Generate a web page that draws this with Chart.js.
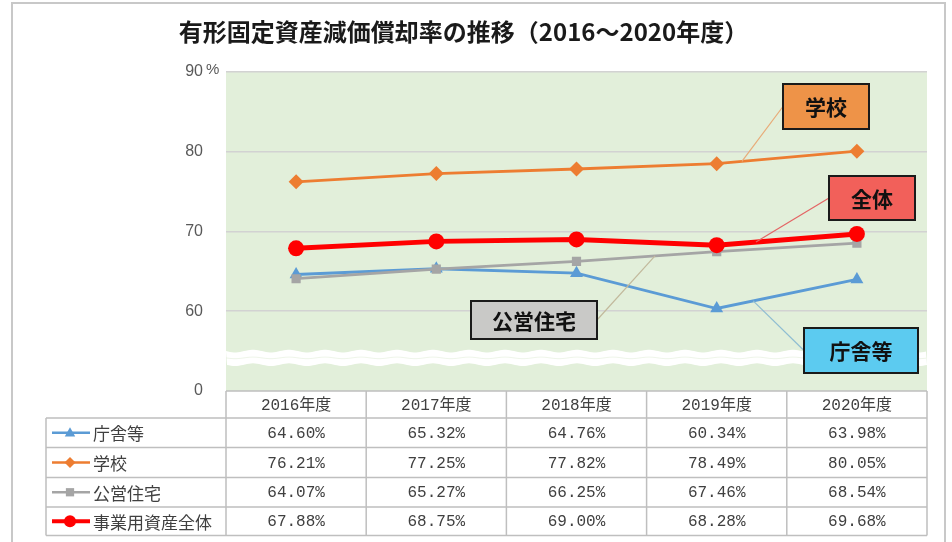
<!DOCTYPE html>
<html lang="ja">
<head>
<meta charset="utf-8">
<title>有形固定資産減価償却率の推移</title>
<script src="https://cdn.jsdelivr.net/npm/chart.js@4.4.1/dist/chart.umd.min.js"></script>
<style>
  html, body { margin: 0; padding: 0; background: #fff; }
  #contenedor { width: 952px; height: 542px; position: relative; }
</style>
</head>
<body>
<div id="contenedor"><canvas id="grafica"></canvas></div>
<script>
// Años (etiquetas del eje x y cabecera de la tabla)
const anios = ["2016年度", "2017年度", "2018年度", "2019年度", "2020年度"];

// Series (%)
const nombres = ["庁舎等", "学校", "公営住宅", "事業用資産全体"];
const chosha = [64.60, 65.32, 64.76, 60.34, 63.98];
const gakko = [76.21, 77.25, 77.82, 78.49, 80.05];
const koei = [64.07, 65.27, 66.25, 67.46, 68.54];
const zentai = [67.88, 68.75, 69.00, 68.28, 69.68];

// Eje y con corte: el valor 50 se rotula como "0"
const ejeMin = 50;
const ejeMax = 90;
const marcasY = [0, 60, 70, 80, 90];

const series = [chosha, gakko, koei, zentai];

// Estilo de cada serie
const estilos = [
    { color: "#5b9bd5", punto: "triangle", radio: 7.5, ancho: 2.8, orden: 3 },
    { color: "#ed7d31", punto: "rectRot", radio: 7.5, ancho: 2.8, orden: 2 },
    { color: "#a5a5a5", punto: "rect", radio: 6.5, ancho: 2.8, orden: 1 },
    { color: "#ff0000", punto: "circle", radio: 8, ancho: 5, orden: 0 }
];

// Rótulos con línea guía: serie, tramo (índice + fracción) y caja
const rotulos = [
    { texto: "学校", serie: 1, desde: 3, t: 0.18, caja: [783, 84, 86, 45], lado: "izq", fondo: "#ee9348", guia: "#e8ab78" },
    { texto: "全体", serie: 3, desde: 3, t: 0.28, caja: [829, 176, 86, 44], lado: "izq", fondo: "#f2605a", guia: "#e46464" },
    { texto: "公営住宅", serie: 2, desde: 2, t: 0.56, caja: [471, 301, 126, 38], lado: "der", fondo: "#c9c9c7", guia: "#c2b99c" },
    { texto: "庁舎等", serie: 0, desde: 3, t: 0.26, caja: [804, 328, 114, 45], lado: "izq", fondo: "#5ccbf0", guia: "#8fbdd2" }
];

// Dibuja un marcador sencillo
function dibujaPunto(ctx, estilo, x, y, r) {
    ctx.fillStyle = estilo.color;
    ctx.beginPath();
    if (estilo.punto === "circle") {
        ctx.arc(x, y, r, 0, Math.PI * 2);
    } else if (estilo.punto === "triangle") {
        ctx.moveTo(x, y - r);
        ctx.lineTo(x + r * 0.95, y + r * 0.7);
        ctx.lineTo(x - r * 0.95, y + r * 0.7);
        ctx.closePath();
    } else if (estilo.punto === "rectRot") {
        ctx.moveTo(x, y - r);
        ctx.lineTo(x + r, y);
        ctx.lineTo(x, y + r);
        ctx.lineTo(x - r, y);
        ctx.closePath();
    } else {
        ctx.rect(x - r * 0.75, y - r * 0.75, r * 1.5, r * 1.5);
    }
    ctx.fill();
}

// Plugin: fondo, marco, corte del eje, tabla de datos y rótulos
const pluginExtras = {
    id: "extras",
    beforeDraw(chart) {
        const { ctx, chartArea: a, width, height } = chart;
        ctx.save();
        ctx.fillStyle = "#ffffff";
        ctx.fillRect(0, 0, width, height);
        // marco exterior
        ctx.strokeStyle = "#c8c8c8";
        ctx.lineWidth = 2;
        ctx.beginPath();
        ctx.moveTo(12, height + 2);
        ctx.lineTo(12, 3);
        ctx.lineTo(945, 3);
        ctx.lineTo(945, height + 2);
        ctx.stroke();
        // área de trazado
        ctx.fillStyle = "#e2efda";
        ctx.fillRect(a.left, a.top, a.right - a.left, a.bottom - a.top);
        ctx.restore();
    },
    beforeDatasetsDraw(chart) {
        // banda blanca ondulada del corte
        const { ctx, chartArea: a } = chart;
        const y = chart.scales.y;
        const y1 = y.getPixelForValue(55);
        const y2 = y.getPixelForValue(53.3);
        ctx.save();
        ctx.fillStyle = "#ffffff";
        ctx.beginPath();
        for (let x = a.left; x <= a.right; x += 2) {
            const yy = y1 + 1.3 * Math.sin((x - a.left) / 36 * Math.PI * 2);
            if (x === a.left) ctx.moveTo(x, yy); else ctx.lineTo(x, yy);
        }
        for (let x = a.right; x >= a.left; x -= 2) {
            ctx.lineTo(x, y2 + 1.3 * Math.sin((x - a.left) / 36 * Math.PI * 2));
        }
        ctx.closePath();
        ctx.fill();
        ctx.strokeStyle = "rgba(226, 239, 218, 0.6)";
        ctx.lineWidth = 1;
        ctx.beginPath();
        for (let x = a.left; x <= a.right; x += 2) {
            const yy = (y1 + y2) / 2 + 0.8 * Math.sin((x - a.left) / 36 * Math.PI * 2);
            if (x === a.left) ctx.moveTo(x, yy); else ctx.lineTo(x, yy);
        }
        ctx.stroke();
        ctx.restore();
    },
    afterDraw(chart) {
        const { ctx, chartArea: a } = chart;
        const xs = chart.scales.x;
        const ys = chart.scales.y;
        ctx.save();

        // "%" junto al 90
        ctx.fillStyle = "#595959";
        ctx.font = "15px 'Liberation Sans', sans-serif";
        ctx.textAlign = "left";
        ctx.textBaseline = "middle";
        ctx.fillText("%", 206, ys.getPixelForValue(ejeMax) - 2);

        // tabla de datos
        const paso = xs.getPixelForValue(1) - xs.getPixelForValue(0);
        const filas = [a.bottom, 418, 447.5, 477.5, 507, 535.5];
        const izq = 46;
        ctx.strokeStyle = "#bfbfbf";
        ctx.lineWidth = 1.5;
        ctx.beginPath();
        // líneas horizontales
        ctx.moveTo(a.left, filas[0]); ctx.lineTo(a.right, filas[0]);
        for (let i = 1; i < filas.length; i++) {
            ctx.moveTo(izq, filas[i]); ctx.lineTo(a.right, filas[i]);
        }
        // líneas verticales
        ctx.moveTo(izq, filas[1]); ctx.lineTo(izq, filas[5]);
        for (let i = 0; i <= anios.length; i++) {
            const x = xs.getPixelForValue(0) - paso / 2 + i * paso;
            ctx.moveTo(x, filas[0]); ctx.lineTo(x, filas[5]);
        }
        ctx.stroke();

        // cabecera
        ctx.fillStyle = "#404040";
        ctx.textAlign = "center";
        ctx.font = "16px 'Liberation Mono', 'Noto Sans CJK JP', monospace";
        anios.forEach((anio, i) => {
            ctx.fillText(anio, xs.getPixelForValue(i), (filas[0] + filas[1]) / 2 + 1);
        });

        // filas de valores con leyenda
        series.forEach((datos, s) => {
            const yc = (filas[s + 1] + filas[s + 2]) / 2 + 1;
            const est = estilos[s];
            ctx.strokeStyle = est.color;
            ctx.lineWidth = s === 3 ? 4 : 2.5;
            ctx.beginPath();
            ctx.moveTo(52, yc - 1); ctx.lineTo(90, yc - 1);
            ctx.stroke();
            dibujaPunto(ctx, est, 70, yc - 1, s === 3 ? 6 : 5.5);
            ctx.fillStyle = "#404040";
            ctx.textAlign = "left";
            ctx.font = "17px 'Noto Sans CJK JP', sans-serif";
            ctx.fillText(nombres[s], 93, yc);
            ctx.textAlign = "center";
            ctx.font = "16px 'Liberation Mono', monospace";
            datos.forEach((v, i) => {
                ctx.fillText(v.toFixed(2) + "%", xs.getPixelForValue(i), yc);
            });
        });

        // rótulos con línea guía
        rotulos.forEach(r => {
            const d = series[r.serie];
            const px = xs.getPixelForValue(r.desde) + r.t * paso;
            const v = d[r.desde] + r.t * (d[r.desde + 1] - d[r.desde]);
            const py = ys.getPixelForValue(v);
            const [bx, by, bw, bh] = r.caja;
            const sx = r.lado === "izq" ? bx : bx + bw;
            ctx.strokeStyle = r.guia;
            ctx.lineWidth = 1.2;
            ctx.beginPath();
            ctx.moveTo(sx, by + bh / 2);
            ctx.lineTo(px, py);
            ctx.stroke();
            ctx.fillStyle = r.fondo;
            ctx.fillRect(bx, by, bw, bh);
            ctx.strokeStyle = "#1a1a1a";
            ctx.lineWidth = 2;
            ctx.strokeRect(bx, by, bw, bh);
            ctx.fillStyle = "#111111";
            ctx.textAlign = "center";
            ctx.textBaseline = "middle";
            ctx.font = "bold 21px 'Noto Sans CJK JP', sans-serif";
            ctx.fillText(r.texto, bx + bw / 2, by + bh / 2 + 1);
        });

        ctx.restore();
    }
};

// Conjuntos de datos
const conjuntos = series.map((datos, i) => ({
    label: nombres[i],
    data: datos,
    borderColor: estilos[i].color,
    backgroundColor: estilos[i].color,
    borderWidth: estilos[i].ancho,
    pointStyle: estilos[i].punto,
    pointRadius: estilos[i].radio,
    pointBorderWidth: 0,
    tension: 0,
    order: estilos[i].orden
}));

// Represento la gráfica
const grafica = new Chart("grafica", {
    type: "line",
    data: { labels: anios, datasets: conjuntos },
    options: {
        responsive: true,
        maintainAspectRatio: false,
        animation: false,
        layout: { padding: { left: 0, right: 25, top: 1, bottom: 151 } },
        plugins: {
            legend: { display: false },
            tooltip: { enabled: false },
            title: {
                display: true,
                text: "有形固定資産減価償却率の推移（2016～2020年度）",
                color: "#1a1a1a",
                font: { family: "'Noto Sans CJK JP', sans-serif", size: 24, weight: "bold" },
                padding: { top: 16, bottom: 26 }
            }
        },
        scales: {
            x: { display: false, offset: true },
            y: {
                min: ejeMin,
                max: ejeMax,
                afterFit: (s) => { s.width = 226; },
                afterBuildTicks: (s) => {
                    s.ticks = marcasY.map(m => ({ value: m === 0 ? ejeMin : m }));
                },
                border: { display: false },
                grid: {
                    drawTicks: false,
                    lineWidth: 1.5,
                    color: (c) => c.tick && c.tick.value === ejeMin ? "rgba(0,0,0,0)" : "#d2d2d2"
                },
                ticks: {
                    padding: 23,
                    color: "#595959",
                    font: { family: "'Liberation Sans', sans-serif", size: 16 },
                    callback: (v) => v === ejeMin ? "0" : String(v)
                }
            }
        }
    },
    plugins: [pluginExtras]
});
</script>
</body>
</html>
